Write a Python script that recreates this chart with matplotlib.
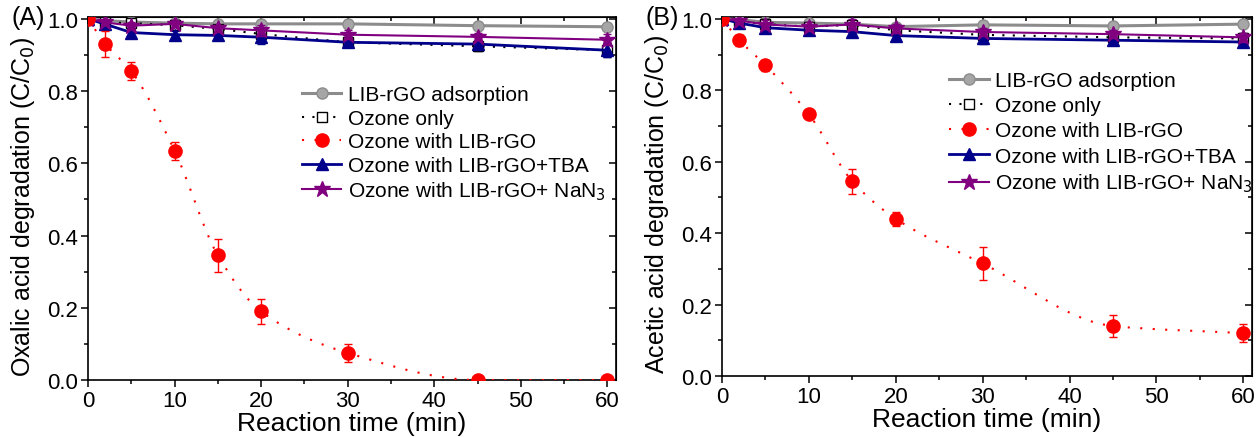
#!/usr/bin/env python3

import numpy as np
import matplotlib
matplotlib.use("Agg")
import matplotlib.pyplot as plt
from matplotlib.path import Path
from matplotlib.patches import PathPatch
from matplotlib.lines import Line2D
from matplotlib.ticker import MultipleLocator, FormatStrFormatter

plt.rcParams['font.family'] = ['Liberation Sans', 'DejaVu Sans']

# Data
time_min = [0, 2, 5, 10, 15, 20, 30, 45, 60]

series_labels = ["LIB-rGO adsorption", "Ozone only", "Ozone with LIB-rGO",
                 "Ozone with LIB-rGO+TBA", "Ozone with LIB-rGO+ NaN$_3$"]

# (A) oxalic acid
ox_adsorption = [1.0, 0.995, 0.991, 0.988, 0.986, 0.986, 0.986, 0.981, 0.978]
ox_ozone_only = [1.0, 0.990, 0.988, 0.982, 0.972, 0.958, 0.935, 0.924, 0.913]
ox_ozone_rgo = [1.0, 0.930, 0.855, 0.635, 0.345, 0.190, 0.075, 0.0, 0.0]
ox_tba = [1.0, 0.985, 0.962, 0.956, 0.954, 0.949, 0.935, 0.930, 0.913]
ox_nan3 = [1.0, 0.990, 0.981, 0.986, 0.974, 0.968, 0.956, 0.950, 0.942]
ox_err_adsorption = [0.005, 0.005, 0.008, 0.008, 0.008, 0.008, 0.01, 0.01, 0.01]
ox_err_ozone_only = [0.005, 0.008, 0.01, 0.01, 0.012, 0.012, 0.012, 0.012, 0.02]
ox_err_rgo = [0.005, 0.035, 0.025, 0.025, 0.045, 0.035, 0.025, 0.004, 0.004]
ox_err_tba = [0.005, 0.01, 0.01, 0.01, 0.012, 0.02, 0.01, 0.01, 0.02]
ox_err_nan3 = [0.005, 0.008, 0.01, 0.01, 0.01, 0.015, 0.012, 0.01, 0.015]

# (B) acetic acid
ac_adsorption = [1.0, 0.998, 0.990, 0.988, 0.985, 0.978, 0.983, 0.980, 0.985]
ac_ozone_only = [1.0, 0.993, 0.985, 0.978, 0.983, 0.968, 0.955, 0.948, 0.945]
ac_ozone_rgo = [1.0, 0.940, 0.870, 0.733, 0.545, 0.440, 0.315, 0.140, 0.120]
ac_tba = [1.0, 0.988, 0.975, 0.968, 0.964, 0.953, 0.945, 0.940, 0.935]
ac_nan3 = [1.0, 0.995, 0.984, 0.978, 0.984, 0.973, 0.963, 0.957, 0.948]
ac_err_adsorption = [0.005, 0.005, 0.008, 0.01, 0.008, 0.008, 0.01, 0.01, 0.008]
ac_err_ozone_only = [0.005, 0.008, 0.015, 0.012, 0.015, 0.012, 0.012, 0.012, 0.015]
ac_err_rgo = [0.005, 0.015, 0.015, 0.012, 0.035, 0.02, 0.045, 0.03, 0.025]
ac_err_tba = [0.005, 0.01, 0.012, 0.012, 0.012, 0.012, 0.015, 0.012, 0.012]
ac_err_nan3 = [0.005, 0.008, 0.012, 0.012, 0.015, 0.012, 0.012, 0.012, 0.012]

GRAY = '#8c8c8c'
NAVY = '#00008b'
PURPLE = '#800080'
RED = '#ff0000'


def smooth_path(x, y):
    # monotone cubic (Fritsch-Carlson) bezier through the points
    x = np.asarray(x, float)
    y = np.asarray(y, float)
    h = np.diff(x)
    d = np.diff(y) / h
    m = np.zeros_like(y)
    m[0], m[-1] = d[0], d[-1]
    for k in range(1, len(x) - 1):
        if d[k - 1] * d[k] <= 0:
            m[k] = 0.0
        else:
            w1 = 2 * h[k] + h[k - 1]
            w2 = h[k] + 2 * h[k - 1]
            m[k] = (w1 + w2) / (w1 / d[k - 1] + w2 / d[k])
    verts = [(x[0], y[0])]
    codes = [Path.MOVETO]
    for k in range(len(x) - 1):
        verts += [(x[k] + h[k] / 3, y[k] + m[k] * h[k] / 3),
                  (x[k + 1] - h[k] / 3, y[k + 1] - m[k + 1] * h[k] / 3),
                  (x[k + 1], y[k + 1])]
        codes += [Path.CURVE4] * 3
    return Path(verts, codes)


def draw_panel(ax, ads, ozo, rgo, tba, nan3, e_ads, e_ozo, e_rgo, e_tba, e_nan3,
               ylabel, tag, leg_anchor, leg_spacing):
    ax.errorbar(time_min, ads, yerr=e_ads, color=GRAY, lw=2.2, marker='o', ms=8,
                mfc='#a6a6a6', mec=GRAY, capsize=3, elinewidth=1, zorder=3)
    ax.errorbar(time_min, ozo, yerr=e_ozo, color='black', lw=1.5, ls=(0, (1, 4)), marker='s', ms=7,
                mfc='white', mec='black', mew=1, capsize=3, elinewidth=1, zorder=4)
    ax.errorbar(time_min, tba, yerr=e_tba, color=NAVY, lw=2, marker='^', ms=9,
                mfc=NAVY, mec=NAVY, capsize=3, elinewidth=1, zorder=5)
    ax.errorbar(time_min, nan3, yerr=e_nan3, color=PURPLE, lw=1.5, marker='*', ms=12,
                mfc=PURPLE, mec=PURPLE, capsize=3, elinewidth=1, zorder=6)
    ax.add_patch(PathPatch(smooth_path(time_min, rgo), fill=False, ec=RED, lw=1.5,
                           ls=(0, (1, 5)), zorder=6))
    ax.errorbar(time_min, rgo, yerr=e_rgo, color=RED, ls='none', marker='o', ms=9.5,
                mfc=RED, mec=RED, capsize=3, elinewidth=1, zorder=7)

    ax.set_xlim(0, 61)
    ax.set_ylim(0, 1.005)
    ax.xaxis.set_major_locator(MultipleLocator(10))
    ax.xaxis.set_minor_locator(MultipleLocator(5))
    ax.yaxis.set_major_locator(MultipleLocator(0.2))
    ax.yaxis.set_minor_locator(MultipleLocator(0.1))
    ax.yaxis.set_major_formatter(FormatStrFormatter('%.1f'))
    ax.tick_params(which='both', direction='out', labelsize=16, width=1.1, pad=2)
    ax.tick_params(which='major', length=5)
    ax.tick_params(which='minor', length=3)
    for s in ax.spines.values():
        s.set_linewidth(1.2)

    # inward mirror ticks on top and right
    top = ax.secondary_xaxis('top')
    top.xaxis.set_major_locator(MultipleLocator(10))
    top.xaxis.set_minor_locator(MultipleLocator(5))
    top.tick_params(which='both', direction='in', labeltop=False, width=1.1)
    top.tick_params(which='major', length=5)
    top.tick_params(which='minor', length=3)
    right = ax.secondary_yaxis('right')
    right.yaxis.set_major_locator(MultipleLocator(0.2))
    right.yaxis.set_minor_locator(MultipleLocator(0.1))
    right.tick_params(which='both', direction='in', labelright=False, width=1.1)
    right.tick_params(which='major', length=5)
    right.tick_params(which='minor', length=3)

    ax.set_xlabel("Reaction time (min)", fontsize=19, labelpad=0)
    ax.set_ylabel(ylabel, fontsize=18)
    ax.yaxis.set_label_coords(-0.097, 0.48)

    handles = [
        Line2D([], [], color=GRAY, lw=2.2, marker='o', ms=8, mfc='#a6a6a6', mec=GRAY),
        Line2D([], [], color='black', lw=1.5, ls=(0, (1, 4)), marker='s', ms=7, mfc='white', mec='black'),
        Line2D([], [], color=RED, lw=1.5, ls=(0, (1, 5)), marker='o', ms=9.5, mfc=RED, mec=RED),
        Line2D([], [], color=NAVY, lw=2, marker='^', ms=9, mfc=NAVY, mec=NAVY),
        Line2D([], [], color=PURPLE, lw=1.5, marker='*', ms=12, mfc=PURPLE, mec=PURPLE),
    ]
    ax.legend(handles, series_labels, loc='upper left', bbox_to_anchor=leg_anchor,
              frameon=False, fontsize=15, handlelength=1.9, handletextpad=0.3,
              labelspacing=leg_spacing, borderpad=0, borderaxespad=0)
    ax.text(-0.145, 1.0, tag, transform=ax.transAxes, fontsize=18, va='center', ha='left')


fig = plt.figure(figsize=(12.57, 4.39), dpi=100)
ax_a = fig.add_axes([88 / 1257, 1 - 381 / 439, (616 - 88) / 1257, (381 - 18) / 439])
ax_b = fig.add_axes([722 / 1257, 1 - 377 / 439, (1252 - 722) / 1257, (377 - 18) / 439])

draw_panel(ax_a, ox_adsorption, ox_ozone_only, ox_ozone_rgo, ox_tba, ox_nan3,
           ox_err_adsorption, ox_err_ozone_only, ox_err_rgo, ox_err_tba, ox_err_nan3,
           "Oxalic acid degradation (C/C$_0$)", "(A)", (0.405, 0.812), 0.22)
draw_panel(ax_b, ac_adsorption, ac_ozone_only, ac_ozone_rgo, ac_tba, ac_nan3,
           ac_err_adsorption, ac_err_ozone_only, ac_err_rgo, ac_err_tba, ac_err_nan3,
           "Acetic acid degradation (C/C$_0$)", "(B)", (0.429, 0.85), 0.3)

fig.savefig("out.png", dpi=100)
